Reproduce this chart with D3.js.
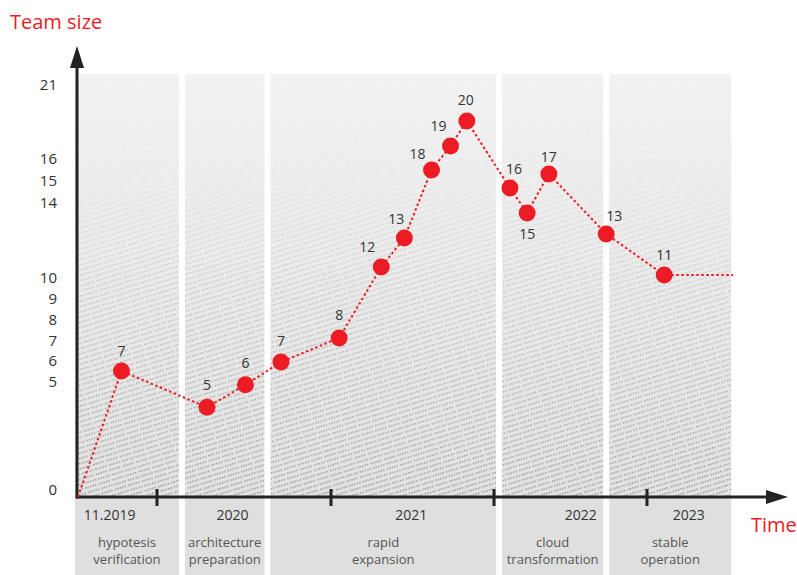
<!DOCTYPE html>
<html>
<head>
<meta charset="utf-8">
<script src="https://cdn.jsdelivr.net/npm/d3@7"></script>
<style>
  body { margin: 0; background: #fff; }
  svg { display: block; font-family: "Open Sans", sans-serif; }
</style>
</head>
<body>
<svg id="chart" width="797" height="575"></svg>
<script>
// time is counted in months from 11.2019
const yTicks = [0, 5, 6, 7, 8, 9, 10, 14, 15, 16, 21];
const pointMonths = [1.1, 5.45, 8.1, 10.55, 14.6, 17.7, 19.4, 21.4, 22.8, 24.0, 27.25, 28.6, 30.3, 34.8, 39.4];
const pointLevels = [5.53, 3.9, 4.88, 5.96, 7.12, 10.59, 12.13, 15.5, 16.88, 18.57, 14.68, 13.47, 15.32, 12.35, 10.16];
const pointLabels = ["7", "5", "6", "7", "8", "12", "13", "18", "19", "20", "16", "15", "17", "13", "11"];
const yearTickMonths = [2, 14, 26, 38];
const yearLabels = ["11.2019", "2020", "2021", "2022", "2023"];
const yearLabelMonths = [0.8, 7.2, 19.9, 32.8, 41.4];
const phaseNames = [["hypotesis", "verification"], ["architecture", "preparation"], ["rapid", "expansion"], ["cloud", "transformation"], ["stable", "operation"]];
const phaseBounds = [0, 3.72, 9.62, 26.4, 34.8, 45.1];
const lineEnd = [45, 10.16];

const red = "#ec1c24";
const svg = d3.select("#chart");

// uneven axes, stretched like in the original drawing
const x = d3.scaleLinear().domain([0, 2, 14, 26, 38, 45]).range([78, 157, 331, 494, 647, 733]);
const y = d3.scaleLinear().domain([0, 5, 10, 14, 16, 21]).range([497, 382, 278, 203, 159, 85]);
const axisY = y(0);

const defs = svg.append("defs");

let grad = defs.append("linearGradient").attr("id", "bg").attr("x1", 0).attr("y1", 0).attr("x2", 0).attr("y2", 1);
grad.append("stop").attr("offset", "0%").attr("stop-color", "#f2f2f2");
grad.append("stop").attr("offset", "100%").attr("stop-color", "#e2e2e2");

let fade = defs.append("linearGradient").attr("id", "fade").attr("x1", 0).attr("y1", 0).attr("x2", 0).attr("y2", 1);
fade.append("stop").attr("offset", "0%").attr("stop-color", "#000");
fade.append("stop").attr("offset", "25%").attr("stop-color", "#1a1a1a");
fade.append("stop").attr("offset", "55%").attr("stop-color", "#777");
fade.append("stop").attr("offset", "100%").attr("stop-color", "#fff");

// speckled rows, a few dots with gaps
let pat = defs.append("pattern").attr("id", "dots").attr("patternUnits", "userSpaceOnUse")
  .attr("width", 14).attr("height", 10).attr("patternTransform", "rotate(-17)");
[[0, 1], [2.5, 1], [5, 1], [9, 1], [11.5, 1], [1, 6], [4, 6], [6.5, 6], [10, 6], [12.5, 6]].forEach(function (p) {
  pat.append("rect").attr("x", p[0]).attr("y", p[1]).attr("width", 1.2).attr("height", 1.4).attr("fill", "#777");
});

let mask = defs.append("mask").attr("id", "fadeMask").attr("maskContentUnits", "objectBoundingBox");
mask.append("rect").attr("width", 1).attr("height", 1).attr("fill", "url(#fade)");

// phase panels
const panels = svg.append("g");
phaseNames.forEach(function (names, i) {
  let x0 = x(phaseBounds[i]) - 3, x1 = x(phaseBounds[i + 1]) - 3;
  if (i > 0) x0 += 6;
  let g = panels.append("g");
  g.append("rect").attr("x", x0).attr("y", 74).attr("width", x1 - x0).attr("height", axisY - 74).attr("fill", "url(#bg)");
  let tg = g.append("g").attr("mask", "url(#fadeMask)");
  tg.append("rect").attr("x", x0).attr("y", 74).attr("width", x1 - x0).attr("height", axisY - 74).attr("fill", "url(#dots)").attr("opacity", 0.9);
  g.append("rect").attr("x", x0).attr("y", axisY).attr("width", x1 - x0).attr("height", 575 - axisY).attr("fill", "#dfdfdf");
  g.append("text").attr("x", (x0 + x1) / 2).attr("y", 547).attr("text-anchor", "middle")
    .attr("font-size", 13).attr("fill", "#555")
    .selectAll("tspan").data(names).enter().append("tspan")
    .attr("x", (x0 + x1) / 2).attr("dy", function (d, k) { return k ? 17 : 0; })
    .text(function (d) { return d; });
});

// year labels
svg.append("g").selectAll("text").data(yearLabels).enter().append("text")
  .attr("x", function (d, i) { return x(yearLabelMonths[i]); })
  .attr("y", 520).attr("text-anchor", "middle").attr("font-size", 14).attr("fill", "#333")
  .text(function (d) { return d; });

// y tick labels
svg.append("g").selectAll("text").data(yTicks).enter().append("text")
  .attr("x", 57).attr("y", function (d) { return d === 0 ? axisY - 7 : y(d); })
  .attr("dy", "0.35em").attr("text-anchor", "end").attr("font-size", 15).attr("fill", "#333")
  .text(function (d) { return d; });

// axes
svg.append("line").attr("x1", 77).attr("y1", axisY + 1.5).attr("x2", 77).attr("y2", 62)
  .attr("stroke", "#222").attr("stroke-width", 3);
svg.append("path").attr("d", "M77,46 L70,68 L84,68 Z").attr("fill", "#222");
svg.append("line").attr("x1", 76).attr("y1", axisY).attr("x2", 772).attr("y2", axisY)
  .attr("stroke", "#222").attr("stroke-width", 3);
svg.append("path").attr("d", "M788," + axisY + " L766," + (axisY - 7) + " L766," + (axisY + 7) + " Z").attr("fill", "#222");
svg.append("g").selectAll("line").data(yearTickMonths).enter().append("line")
  .attr("x1", function (d) { return x(d); }).attr("x2", function (d) { return x(d); })
  .attr("y1", axisY - 8).attr("y2", axisY + 9).attr("stroke", "#222").attr("stroke-width", 3);

svg.append("text").attr("x", 10).attr("y", 29).attr("font-size", 20).attr("fill", red).text("Team size");
svg.append("text").attr("x", 751).attr("y", 532).attr("font-size", 20).attr("fill", red).text("Time");

// team size line
const pts = [[0, 0]].concat(pointMonths.map(function (m, i) { return [m, pointLevels[i]]; }), [lineEnd]);
const line = d3.line().x(function (d) { return x(d[0]); }).y(function (d) { return y(d[1]); });
svg.append("path").datum(pts).attr("d", line).attr("fill", "none")
  .attr("stroke", red).attr("stroke-width", 2).attr("stroke-dasharray", "2.5,2.5");

svg.append("g").selectAll("circle").data(pointMonths).enter().append("circle")
  .attr("cx", function (d) { return x(d); })
  .attr("cy", function (d, i) { return y(pointLevels[i]); })
  .attr("r", 8.5).attr("fill", red);

// label nudges (dx, dy) around each point
const nudge = [[0, -20], [0, -22], [0, -22], [0, -21], [0, -23], [-14, -20], [-8, -19], [-14, -16], [-12, -20], [-1, -21], [4, -19], [0, 21], [0, -17], [8, -18], [0, -20]];
svg.append("g").selectAll("text").data(pointLabels).enter().append("text")
  .attr("x", function (d, i) { return x(pointMonths[i]) + nudge[i][0]; })
  .attr("y", function (d, i) { return y(pointLevels[i]) + nudge[i][1]; })
  .attr("dy", "0.35em").attr("text-anchor", "middle").attr("font-size", 14).attr("fill", "#333")
  .text(function (d) { return d; });
</script>
</body>
</html>
